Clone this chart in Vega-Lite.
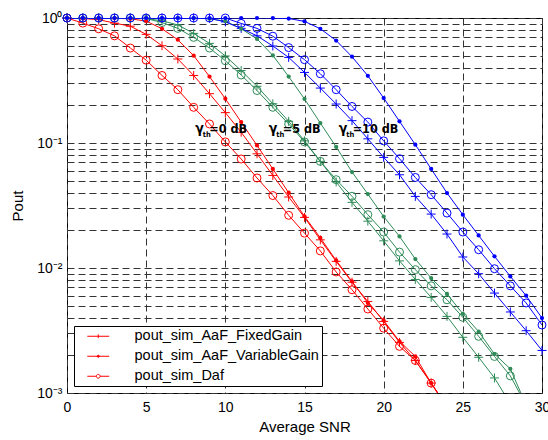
{
  "$schema": "https://vega.github.io/schema/vega-lite/v6.json",
  "width": 475,
  "height": 375,
  "autosize": {"type": "none"},
  "padding": {"left": 67, "top": 18, "right": 6, "bottom": 47},
  "background": "white",
  "config": {
    "view": {"stroke": "black", "strokeWidth": 1},
    "font": "Liberation Sans",
    "axis": {
      "domain": false, "ticks": false, "grid": true,
      "gridColor": "#333333", "gridDash": [7, 4], "gridWidth": 1, "gridOpacity": 1,
      "labelColor": "black", "labelFont": "Liberation Sans", "labelFontSize": 14,
      "titleFont": "Liberation Sans", "titleFontSize": 15, "titleFontWeight": "normal", "titleColor": "black",
      "labelFlush": false, "labelOverlap": false
    }
  },
  "datasets": {
    "curves": [
      {"g":"0 dB","s":"FixedGain","x":0,"y":1.0},{"g":"0 dB","s":"FixedGain","x":1,"y":0.99},{"g":"0 dB","s":"FixedGain","x":2,"y":0.97},{"g":"0 dB","s":"FixedGain","x":3,"y":0.91},{"g":"0 dB","s":"FixedGain","x":4,"y":0.86},{"g":"0 dB","s":"FixedGain","x":5,"y":0.74},{"g":"0 dB","s":"FixedGain","x":6,"y":0.60},{"g":"0 dB","s":"FixedGain","x":7,"y":0.47},{"g":"0 dB","s":"FixedGain","x":8,"y":0.347},{"g":"0 dB","s":"FixedGain","x":9,"y":0.248},{"g":"0 dB","s":"FixedGain","x":10,"y":0.175},{"g":"0 dB","s":"FixedGain","x":11,"y":0.122},{"g":"0 dB","s":"FixedGain","x":12,"y":0.082},{"g":"0 dB","s":"FixedGain","x":13,"y":0.055},{"g":"0 dB","s":"FixedGain","x":14,"y":0.037},{"g":"0 dB","s":"FixedGain","x":15,"y":0.0254},{"g":"0 dB","s":"FixedGain","x":16,"y":0.0168},{"g":"0 dB","s":"FixedGain","x":17,"y":0.0113},{"g":"0 dB","s":"FixedGain","x":18,"y":0.0077},{"g":"0 dB","s":"FixedGain","x":19,"y":0.0054},{"g":"0 dB","s":"FixedGain","x":20,"y":0.00374},{"g":"0 dB","s":"FixedGain","x":21,"y":0.00254},{"g":"0 dB","s":"FixedGain","x":22,"y":0.00182},{"g":"0 dB","s":"FixedGain","x":23,"y":0.0012},{"g":"0 dB","s":"FixedGain","x":24,"y":0.00078},
      {"g":"0 dB","s":"VariableGain","x":0,"y":1.0},{"g":"0 dB","s":"VariableGain","x":1,"y":1.0},{"g":"0 dB","s":"VariableGain","x":2,"y":0.998},{"g":"0 dB","s":"VariableGain","x":3,"y":0.995},{"g":"0 dB","s":"VariableGain","x":4,"y":0.985},{"g":"0 dB","s":"VariableGain","x":5,"y":0.945},{"g":"0 dB","s":"VariableGain","x":6,"y":0.82},{"g":"0 dB","s":"VariableGain","x":7,"y":0.67},{"g":"0 dB","s":"VariableGain","x":8,"y":0.50},{"g":"0 dB","s":"VariableGain","x":9,"y":0.34},{"g":"0 dB","s":"VariableGain","x":10,"y":0.226},{"g":"0 dB","s":"VariableGain","x":11,"y":0.147},{"g":"0 dB","s":"VariableGain","x":12,"y":0.0957},{"g":"0 dB","s":"VariableGain","x":13,"y":0.062},{"g":"0 dB","s":"VariableGain","x":14,"y":0.040},{"g":"0 dB","s":"VariableGain","x":15,"y":0.0259},{"g":"0 dB","s":"VariableGain","x":16,"y":0.0174},{"g":"0 dB","s":"VariableGain","x":17,"y":0.0115},{"g":"0 dB","s":"VariableGain","x":18,"y":0.0078},{"g":"0 dB","s":"VariableGain","x":19,"y":0.00525},{"g":"0 dB","s":"VariableGain","x":20,"y":0.0038},{"g":"0 dB","s":"VariableGain","x":21,"y":0.00259},{"g":"0 dB","s":"VariableGain","x":22,"y":0.00196},{"g":"0 dB","s":"VariableGain","x":23,"y":0.0012},{"g":"0 dB","s":"VariableGain","x":24,"y":0.00078},
      {"g":"0 dB","s":"Daf","x":0,"y":1.0},{"g":"0 dB","s":"Daf","x":1,"y":0.91},{"g":"0 dB","s":"Daf","x":2,"y":0.82},{"g":"0 dB","s":"Daf","x":3,"y":0.72},{"g":"0 dB","s":"Daf","x":4,"y":0.575},{"g":"0 dB","s":"Daf","x":5,"y":0.46},{"g":"0 dB","s":"Daf","x":6,"y":0.347},{"g":"0 dB","s":"Daf","x":7,"y":0.267},{"g":"0 dB","s":"Daf","x":8,"y":0.193},{"g":"0 dB","s":"Daf","x":9,"y":0.142},{"g":"0 dB","s":"Daf","x":10,"y":0.102},{"g":"0 dB","s":"Daf","x":11,"y":0.0745},{"g":"0 dB","s":"Daf","x":12,"y":0.0525},{"g":"0 dB","s":"Daf","x":13,"y":0.038},{"g":"0 dB","s":"Daf","x":14,"y":0.0264},{"g":"0 dB","s":"Daf","x":15,"y":0.019},{"g":"0 dB","s":"Daf","x":16,"y":0.0137},{"g":"0 dB","s":"Daf","x":17,"y":0.0093},{"g":"0 dB","s":"Daf","x":18,"y":0.0067},{"g":"0 dB","s":"Daf","x":19,"y":0.0047},{"g":"0 dB","s":"Daf","x":20,"y":0.0033},{"g":"0 dB","s":"Daf","x":21,"y":0.00236},{"g":"0 dB","s":"Daf","x":22,"y":0.00182},{"g":"0 dB","s":"Daf","x":23,"y":0.0012},{"g":"0 dB","s":"Daf","x":24,"y":0.00075},
      {"g":"5 dB","s":"FixedGain","x":0,"y":1.0},{"g":"5 dB","s":"FixedGain","x":1,"y":1.0},{"g":"5 dB","s":"FixedGain","x":2,"y":1.0},{"g":"5 dB","s":"FixedGain","x":3,"y":1.0},{"g":"5 dB","s":"FixedGain","x":4,"y":0.998},{"g":"5 dB","s":"FixedGain","x":5,"y":0.99},{"g":"5 dB","s":"FixedGain","x":6,"y":0.95},{"g":"5 dB","s":"FixedGain","x":7,"y":0.88},{"g":"5 dB","s":"FixedGain","x":8,"y":0.753},{"g":"5 dB","s":"FixedGain","x":9,"y":0.627},{"g":"5 dB","s":"FixedGain","x":10,"y":0.497},{"g":"5 dB","s":"FixedGain","x":11,"y":0.38},{"g":"5 dB","s":"FixedGain","x":12,"y":0.284},{"g":"5 dB","s":"FixedGain","x":13,"y":0.206},{"g":"5 dB","s":"FixedGain","x":14,"y":0.149},{"g":"5 dB","s":"FixedGain","x":15,"y":0.104},{"g":"5 dB","s":"FixedGain","x":16,"y":0.0713},{"g":"5 dB","s":"FixedGain","x":17,"y":0.0488},{"g":"5 dB","s":"FixedGain","x":18,"y":0.0335},{"g":"5 dB","s":"FixedGain","x":19,"y":0.0237},{"g":"5 dB","s":"FixedGain","x":20,"y":0.0165},{"g":"5 dB","s":"FixedGain","x":21,"y":0.0114},{"g":"5 dB","s":"FixedGain","x":22,"y":0.0081},{"g":"5 dB","s":"FixedGain","x":23,"y":0.00582},{"g":"5 dB","s":"FixedGain","x":24,"y":0.0041},{"g":"5 dB","s":"FixedGain","x":25,"y":0.00279},{"g":"5 dB","s":"FixedGain","x":26,"y":0.00193},{"g":"5 dB","s":"FixedGain","x":27,"y":0.00132},{"g":"5 dB","s":"FixedGain","x":28,"y":0.00082},
      {"g":"5 dB","s":"VariableGain","x":0,"y":1.0},{"g":"5 dB","s":"VariableGain","x":1,"y":1.0},{"g":"5 dB","s":"VariableGain","x":2,"y":1.0},{"g":"5 dB","s":"VariableGain","x":3,"y":1.0},{"g":"5 dB","s":"VariableGain","x":4,"y":1.0},{"g":"5 dB","s":"VariableGain","x":5,"y":1.0},{"g":"5 dB","s":"VariableGain","x":6,"y":1.0},{"g":"5 dB","s":"VariableGain","x":7,"y":0.999},{"g":"5 dB","s":"VariableGain","x":8,"y":0.997},{"g":"5 dB","s":"VariableGain","x":9,"y":0.985},{"g":"5 dB","s":"VariableGain","x":10,"y":0.945},{"g":"5 dB","s":"VariableGain","x":11,"y":0.82},{"g":"5 dB","s":"VariableGain","x":12,"y":0.68},{"g":"5 dB","s":"VariableGain","x":13,"y":0.502},{"g":"5 dB","s":"VariableGain","x":14,"y":0.34},{"g":"5 dB","s":"VariableGain","x":15,"y":0.225},{"g":"5 dB","s":"VariableGain","x":16,"y":0.1445},{"g":"5 dB","s":"VariableGain","x":17,"y":0.093},{"g":"5 dB","s":"VariableGain","x":18,"y":0.0586},{"g":"5 dB","s":"VariableGain","x":19,"y":0.039},{"g":"5 dB","s":"VariableGain","x":20,"y":0.0258},{"g":"5 dB","s":"VariableGain","x":21,"y":0.0179},{"g":"5 dB","s":"VariableGain","x":22,"y":0.0118},{"g":"5 dB","s":"VariableGain","x":23,"y":0.0083},{"g":"5 dB","s":"VariableGain","x":24,"y":0.0062},{"g":"5 dB","s":"VariableGain","x":25,"y":0.0043},{"g":"5 dB","s":"VariableGain","x":26,"y":0.0031},{"g":"5 dB","s":"VariableGain","x":27,"y":0.00205},{"g":"5 dB","s":"VariableGain","x":28,"y":0.00156},{"g":"5 dB","s":"VariableGain","x":29,"y":0.0008},
      {"g":"5 dB","s":"Daf","x":0,"y":1.0},{"g":"5 dB","s":"Daf","x":1,"y":1.0},{"g":"5 dB","s":"Daf","x":2,"y":1.0},{"g":"5 dB","s":"Daf","x":3,"y":1.0},{"g":"5 dB","s":"Daf","x":4,"y":1.0},{"g":"5 dB","s":"Daf","x":5,"y":0.99},{"g":"5 dB","s":"Daf","x":6,"y":0.92},{"g":"5 dB","s":"Daf","x":7,"y":0.826},{"g":"5 dB","s":"Daf","x":8,"y":0.70},{"g":"5 dB","s":"Daf","x":9,"y":0.575},{"g":"5 dB","s":"Daf","x":10,"y":0.455},{"g":"5 dB","s":"Daf","x":11,"y":0.35},{"g":"5 dB","s":"Daf","x":12,"y":0.263},{"g":"5 dB","s":"Daf","x":13,"y":0.193},{"g":"5 dB","s":"Daf","x":14,"y":0.142},{"g":"5 dB","s":"Daf","x":15,"y":0.102},{"g":"5 dB","s":"Daf","x":16,"y":0.0713},{"g":"5 dB","s":"Daf","x":17,"y":0.0509},{"g":"5 dB","s":"Daf","x":18,"y":0.0375},{"g":"5 dB","s":"Daf","x":19,"y":0.0267},{"g":"5 dB","s":"Daf","x":20,"y":0.0194},{"g":"5 dB","s":"Daf","x":21,"y":0.0134},{"g":"5 dB","s":"Daf","x":22,"y":0.0097},{"g":"5 dB","s":"Daf","x":23,"y":0.0072},{"g":"5 dB","s":"Daf","x":24,"y":0.00557},{"g":"5 dB","s":"Daf","x":25,"y":0.00403},{"g":"5 dB","s":"Daf","x":26,"y":0.00284},{"g":"5 dB","s":"Daf","x":27,"y":0.00196},{"g":"5 dB","s":"Daf","x":28,"y":0.00137},{"g":"5 dB","s":"Daf","x":29,"y":0.0008},
      {"g":"10 dB","s":"FixedGain","x":0,"y":1.0},{"g":"10 dB","s":"FixedGain","x":1,"y":1.0},{"g":"10 dB","s":"FixedGain","x":2,"y":1.0},{"g":"10 dB","s":"FixedGain","x":3,"y":1.0},{"g":"10 dB","s":"FixedGain","x":4,"y":1.0},{"g":"10 dB","s":"FixedGain","x":5,"y":1.0},{"g":"10 dB","s":"FixedGain","x":6,"y":1.0},{"g":"10 dB","s":"FixedGain","x":7,"y":1.0},{"g":"10 dB","s":"FixedGain","x":8,"y":1.0},{"g":"10 dB","s":"FixedGain","x":9,"y":0.995},{"g":"10 dB","s":"FixedGain","x":10,"y":0.93},{"g":"10 dB","s":"FixedGain","x":11,"y":0.826},{"g":"10 dB","s":"FixedGain","x":12,"y":0.72},{"g":"10 dB","s":"FixedGain","x":13,"y":0.597},{"g":"10 dB","s":"FixedGain","x":14,"y":0.484},{"g":"10 dB","s":"FixedGain","x":15,"y":0.367},{"g":"10 dB","s":"FixedGain","x":16,"y":0.275},{"g":"10 dB","s":"FixedGain","x":17,"y":0.205},{"g":"10 dB","s":"FixedGain","x":18,"y":0.151},{"g":"10 dB","s":"FixedGain","x":19,"y":0.108},{"g":"10 dB","s":"FixedGain","x":20,"y":0.0767},{"g":"10 dB","s":"FixedGain","x":21,"y":0.0557},{"g":"10 dB","s":"FixedGain","x":22,"y":0.0374},{"g":"10 dB","s":"FixedGain","x":23,"y":0.027},{"g":"10 dB","s":"FixedGain","x":24,"y":0.0187},{"g":"10 dB","s":"FixedGain","x":25,"y":0.01225},{"g":"10 dB","s":"FixedGain","x":26,"y":0.009},{"g":"10 dB","s":"FixedGain","x":27,"y":0.0063},{"g":"10 dB","s":"FixedGain","x":28,"y":0.00445},{"g":"10 dB","s":"FixedGain","x":29,"y":0.00315},{"g":"10 dB","s":"FixedGain","x":30,"y":0.00219},
      {"g":"10 dB","s":"VariableGain","x":0,"y":1.0},{"g":"10 dB","s":"VariableGain","x":1,"y":1.0},{"g":"10 dB","s":"VariableGain","x":2,"y":1.0},{"g":"10 dB","s":"VariableGain","x":3,"y":1.0},{"g":"10 dB","s":"VariableGain","x":4,"y":1.0},{"g":"10 dB","s":"VariableGain","x":5,"y":1.0},{"g":"10 dB","s":"VariableGain","x":6,"y":1.0},{"g":"10 dB","s":"VariableGain","x":7,"y":1.0},{"g":"10 dB","s":"VariableGain","x":8,"y":1.0},{"g":"10 dB","s":"VariableGain","x":9,"y":1.0},{"g":"10 dB","s":"VariableGain","x":10,"y":1.0},{"g":"10 dB","s":"VariableGain","x":11,"y":1.0},{"g":"10 dB","s":"VariableGain","x":12,"y":1.0},{"g":"10 dB","s":"VariableGain","x":13,"y":0.998},{"g":"10 dB","s":"VariableGain","x":14,"y":0.99},{"g":"10 dB","s":"VariableGain","x":15,"y":0.94},{"g":"10 dB","s":"VariableGain","x":16,"y":0.82},{"g":"10 dB","s":"VariableGain","x":17,"y":0.66},{"g":"10 dB","s":"VariableGain","x":18,"y":0.49},{"g":"10 dB","s":"VariableGain","x":19,"y":0.345},{"g":"10 dB","s":"VariableGain","x":20,"y":0.229},{"g":"10 dB","s":"VariableGain","x":21,"y":0.149},{"g":"10 dB","s":"VariableGain","x":22,"y":0.097},{"g":"10 dB","s":"VariableGain","x":23,"y":0.062},{"g":"10 dB","s":"VariableGain","x":24,"y":0.0398},{"g":"10 dB","s":"VariableGain","x":25,"y":0.0267},{"g":"10 dB","s":"VariableGain","x":26,"y":0.0182},{"g":"10 dB","s":"VariableGain","x":27,"y":0.0124},{"g":"10 dB","s":"VariableGain","x":28,"y":0.00857},{"g":"10 dB","s":"VariableGain","x":29,"y":0.006},{"g":"10 dB","s":"VariableGain","x":30,"y":0.00398},
      {"g":"10 dB","s":"Daf","x":0,"y":1.0},{"g":"10 dB","s":"Daf","x":1,"y":1.0},{"g":"10 dB","s":"Daf","x":2,"y":1.0},{"g":"10 dB","s":"Daf","x":3,"y":1.0},{"g":"10 dB","s":"Daf","x":4,"y":1.0},{"g":"10 dB","s":"Daf","x":5,"y":1.0},{"g":"10 dB","s":"Daf","x":6,"y":1.0},{"g":"10 dB","s":"Daf","x":7,"y":1.0},{"g":"10 dB","s":"Daf","x":8,"y":1.0},{"g":"10 dB","s":"Daf","x":9,"y":1.0},{"g":"10 dB","s":"Daf","x":10,"y":1.0},{"g":"10 dB","s":"Daf","x":11,"y":0.905},{"g":"10 dB","s":"Daf","x":12,"y":0.826},{"g":"10 dB","s":"Daf","x":13,"y":0.715},{"g":"10 dB","s":"Daf","x":14,"y":0.58},{"g":"10 dB","s":"Daf","x":15,"y":0.464},{"g":"10 dB","s":"Daf","x":16,"y":0.358},{"g":"10 dB","s":"Daf","x":17,"y":0.267},{"g":"10 dB","s":"Daf","x":18,"y":0.196},{"g":"10 dB","s":"Daf","x":19,"y":0.147},{"g":"10 dB","s":"Daf","x":20,"y":0.104},{"g":"10 dB","s":"Daf","x":21,"y":0.0749},{"g":"10 dB","s":"Daf","x":22,"y":0.053},{"g":"10 dB","s":"Daf","x":23,"y":0.0386},{"g":"10 dB","s":"Daf","x":24,"y":0.0275},{"g":"10 dB","s":"Daf","x":25,"y":0.0194},{"g":"10 dB","s":"Daf","x":26,"y":0.014},{"g":"10 dB","s":"Daf","x":27,"y":0.00987},{"g":"10 dB","s":"Daf","x":28,"y":0.0072},{"g":"10 dB","s":"Daf","x":29,"y":0.00525},{"g":"10 dB","s":"Daf","x":30,"y":0.0035}
    ],
    "ann": [
      {"x": 8.1, "y": 0.1202, "t": "=0 dB"},
      {"x": 12.74, "y": 0.1202, "t": "=5 dB"},
      {"x": 17.16, "y": 0.1202, "t": "=10 dB"}
    ]
  },
  "data": {"name": "curves"},
  "encoding": {
    "x": {"field": "x", "type": "quantitative", "scale": {"domain": [0, 30], "nice": false},
      "axis": {"values": [0, 5, 10, 15, 20, 25, 30], "title": "Average SNR", "labelPadding": 7, "titlePadding": 5}},
    "y": {"field": "y", "type": "quantitative", "scale": {"type": "log", "domain": [0.001, 1], "nice": false},
      "axis": {"values": [0.001,0.002,0.003,0.004,0.005,0.006,0.007,0.008,0.009,0.01,0.02,0.03,0.04,0.05,0.06,0.07,0.08,0.09,0.1,0.2,0.3,0.4,0.5,0.6,0.7,0.8,0.9,1],
        "labelExpr": "datum.value == 1 ? '10⁰' : datum.value == 0.1 ? '10⁻¹' : datum.value == 0.01 ? '10⁻²' : datum.value == 0.001 ? '10⁻³' : ''",
        "title": "Pout", "labelPadding": 5, "titlePadding": 11}}
  },
  "layer": [
    {
      "mark": {"type": "line", "clip": true, "strokeWidth": 1},
      "encoding": {
        "color": {"field": "g", "type": "nominal", "scale": {"domain": ["0 dB", "5 dB", "10 dB"], "range": ["#ff0000", "#2e8b57", "#0000ff"]}, "legend": null},
        "detail": {"field": "s"}
      }
    },
    {
      "transform": [{"filter": "datum.s == 'FixedGain' && datum.y >= 0.001"}],
      "mark": {"type": "point", "shape": "M-1,0H1M0,-1V1", "filled": false, "size": 80, "strokeWidth": 1, "opacity": 1},
      "encoding": {"color": {"field": "g", "type": "nominal", "legend": null}}
    },
    {
      "transform": [{"filter": "datum.s == 'Daf' && datum.y >= 0.001"}],
      "mark": {"type": "point", "shape": "circle", "filled": false, "size": 64, "strokeWidth": 1, "opacity": 1},
      "encoding": {"color": {"field": "g", "type": "nominal", "legend": null}}
    },
    {
      "transform": [{"filter": "datum.s == 'VariableGain' && datum.y >= 0.001"}],
      "mark": {"type": "point", "shape": "circle", "filled": true, "size": 18, "opacity": 1},
      "encoding": {"color": {"field": "g", "type": "nominal", "legend": null}}
    },
    {
      "transform": [{"filter": "datum.g == '0 dB'"}],
      "mark": {"type": "point", "filled": false, "color": "#ff0000", "opacity": 0, "strokeWidth": 1, "size": 441},
      "encoding": {
        "shape": {"field": "s", "type": "nominal",
          "scale": {"domain": ["FixedGain", "VariableGain", "Daf"],
            "range": [
              "M-2.19,0H2.19M0,-0.38V0.38",
              "M-2.19,0H2.19M0.05,0A0.05,0.05 0 1,1 -0.05,0A0.05,0.05 0 1,1 0.05,0M0.1,0A0.1,0.1 0 1,1 -0.1,0A0.1,0.1 0 1,1 0.1,0M0.15,0A0.15,0.15 0 1,1 -0.15,0A0.15,0.15 0 1,1 0.15,0M0.2,0A0.2,0.2 0 1,1 -0.2,0A0.2,0.2 0 1,1 0.2,0",
              "M-2.19,0H-0.38M0.38,0H2.19M0.38,0A0.38,0.38 0 1,1 -0.38,0A0.38,0.38 0 1,1 0.38,0"
            ]},
          "legend": {
            "title": null, "orient": "bottom-left", "offset": 7, "padding": 3,
            "strokeColor": "black", "fillColor": "white",
            "symbolOffset": 14, "labelOffset": 29, "rowPadding": 5, "labelLimit": 0,
            "symbolOpacity": 1, "symbolStrokeColor": "#ff0000", "symbolFillColor": "transparent", "symbolStrokeWidth": 1,
            "labelFont": "Liberation Sans", "labelFontSize": 14.5, "labelColor": "black",
            "labelExpr": "datum.label == 'Daf' ? 'pout_sim_Daf    ' : 'pout_sim_AaF_' + datum.label + '    '"
          }
        }
      }
    },
    {
      "data": {"name": "ann"},
      "mark": {"type": "text", "text": "γ", "align": "left", "baseline": "alphabetic", "font": "Liberation Sans Narrow, DejaVu Sans Condensed, Liberation Sans", "fontWeight": "bold", "fontSize": 14, "color": "black"}
    },
    {
      "data": {"name": "ann"},
      "mark": {"type": "text", "text": "th", "align": "left", "baseline": "alphabetic", "dx": 7.5, "dy": 3.5, "font": "Liberation Sans Narrow, DejaVu Sans Condensed, Liberation Sans", "fontWeight": "bold", "fontSize": 7.5, "color": "black"}
    },
    {
      "data": {"name": "ann"},
      "mark": {"type": "text", "align": "left", "baseline": "alphabetic", "dx": 14, "font": "Liberation Sans Narrow, DejaVu Sans Condensed, Liberation Sans", "fontWeight": "bold", "fontSize": 12.5, "color": "black"},
      "encoding": {"text": {"field": "t"}}
    }
  ],
  "resolve": {"scale": {"shape": "independent"}}
}
